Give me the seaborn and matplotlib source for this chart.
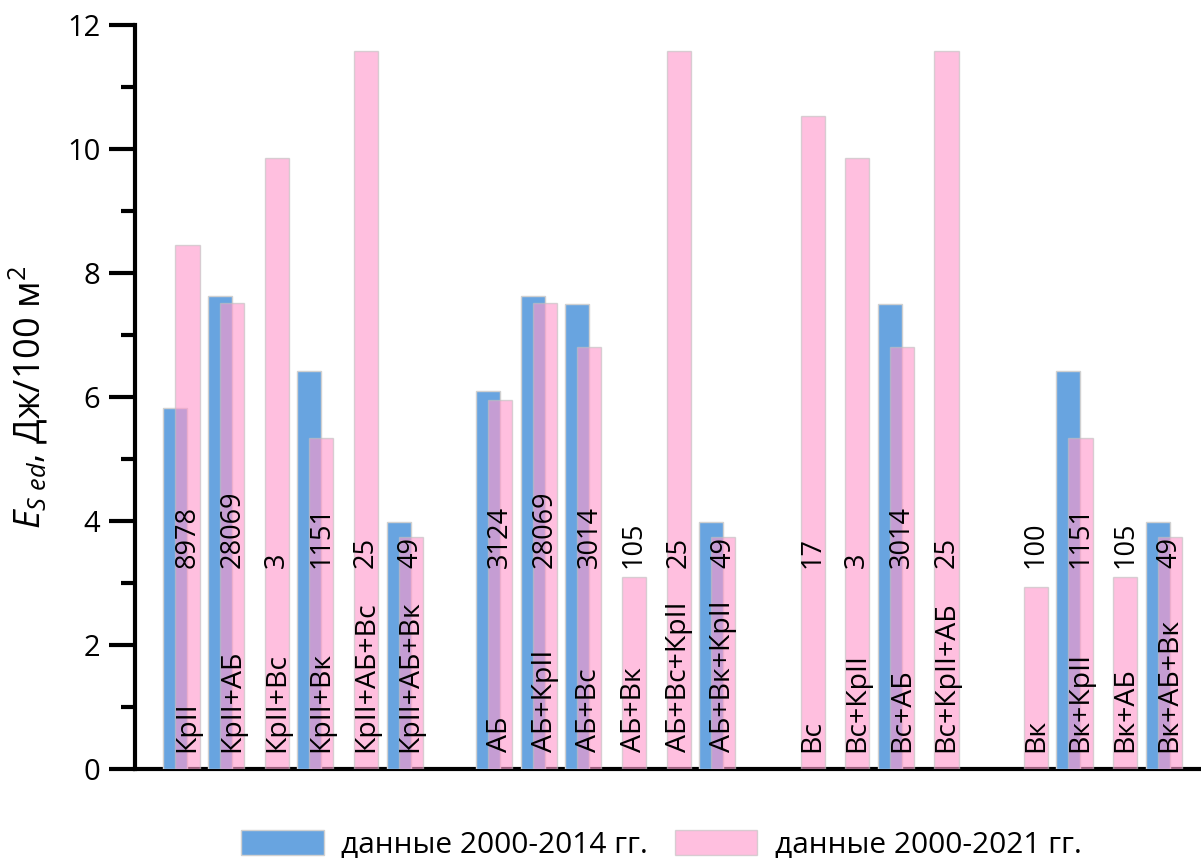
import numpy as np
import pandas as pd
import matplotlib
matplotlib.use("Agg")
import matplotlib.pyplot as plt
from matplotlib.patches import Patch
from matplotlib.ticker import MultipleLocator
import seaborn as sns

# Combinations of damage factors, grouped by the leading factor
combos = [
    "КрII", "КрII+АБ", "КрII+Вс", "КрII+Вк", "КрII+АБ+Вс", "КрII+АБ+Вк",
    "АБ", "АБ+КрII", "АБ+Вс", "АБ+Вк", "АБ+Вс+КрII", "АБ+Вк+КрII",
    "Вс", "Вс+КрII", "Вс+АБ", "Вс+КрII+АБ",
    "Вк", "Вк+КрII", "Вк+АБ", "Вк+АБ+Вк",
]
group_sizes = [6, 6, 4, 4]

# E_S ed, J/100 m2 for 2000-2014 (NaN where there was no data)
vals_2014 = [5.82, 7.63, np.nan, 6.42, np.nan, 3.98,
             6.10, 7.63, 7.50, np.nan, np.nan, 3.98,
             np.nan, np.nan, 7.50, np.nan,
             np.nan, 6.42, np.nan, 3.98]
# E_S ed, J/100 m2 for 2000-2021
vals_2021 = [8.45, 7.52, 9.85, 5.34, 11.58, 3.74,
             5.95, 7.52, 6.81, 3.10, 11.58, 3.74,
             10.53, 9.85, 6.81, 11.58,
             2.93, 5.34, 3.10, 3.74]
# number of events behind each estimate
counts = ["8978", "28069", "3", "1151", "25", "49",
          "3124", "28069", "3014", "105", "25", "49",
          "17", "3", "3014", "25",
          "100", "1151", "105", "49"]

# slot positions: one empty slot between groups
slots = []
start = 0
for n in group_sizes:
    slots.extend(range(start, start + n))
    start += n + 1
slots = np.array(slots, dtype=float)

shift = 0.27
df = pd.DataFrame({"combo": combos, "slot": slots,
                   "v14": vals_2014, "v21": vals_2021, "n": counts})
df14 = df.dropna(subset=["v14"]).assign(pos=lambda d: d["slot"] - shift)

sns.set_style("white", rc={"text.color": "black", "axes.labelcolor": "black",
                           "xtick.color": "black", "ytick.color": "black"})
plt.rcParams["font.family"] = ["Open Sans", "DejaVu Sans"]
plt.rcParams["mathtext.fontset"] = "custom"
plt.rcParams["mathtext.rm"] = "Open Sans"
plt.rcParams["mathtext.it"] = "Open Sans:italic"

blue = "#68A4E0"
pink = (1.0, 0.60, 0.80)

fig = plt.figure(figsize=(12.01, 8.64), dpi=100)
ax = fig.add_axes([0.1124, 0.110, 0.8876, 0.861])

sns.barplot(data=df14, x="pos", y="v14", native_scale=True, width=0.54,
            color=blue, saturation=1, edgecolor="#d0d0d0", linewidth=1.0,
            ax=ax, zorder=3)
sns.barplot(data=df, x="slot", y="v21", native_scale=True, width=0.54,
            color=pink, saturation=1, alpha=0.62, edgecolor="#c0c0c0",
            linewidth=1.0, ax=ax, zorder=4)

for _, r in df.iterrows():
    ax.text(r["slot"], 3.24, r["n"], rotation=90, ha="center", va="bottom",
            fontsize=19.5, color="black", zorder=5)
    ax.text(r["slot"], 0.27, r["combo"], rotation=90, ha="center", va="bottom",
            fontsize=20.5, color="black", zorder=5)

ax.set_xlim(-1.176, 22.70)
ax.set_ylim(0, 12)
ax.set_xticks([])
ax.set_xlabel("")
ax.yaxis.set_major_locator(MultipleLocator(2))
ax.yaxis.set_minor_locator(MultipleLocator(1))
ax.tick_params(axis="y", which="major", direction="out", length=19, width=3,
               labelsize=21, pad=6, left=True)
ax.tick_params(axis="y", which="minor", direction="out", length=10, width=3,
               left=True)
for side in ("top", "right"):
    ax.spines[side].set_visible(False)
for side in ("left", "bottom"):
    ax.spines[side].set_linewidth(3)
    ax.spines[side].set_color("black")
ax.set_ylabel(r"$E_{S\ ed}$, Дж/100 м$^2$", fontsize=26, labelpad=12)

handles = [Patch(facecolor=blue, edgecolor="#d0d0d0", linewidth=1.0),
           Patch(facecolor=pink, alpha=0.62, edgecolor="#c0c0c0", linewidth=1.0)]
fig.legend(handles, ["данные 2000-2014 гг.", "данные 2000-2021 гг."],
           loc="center", bbox_to_anchor=(0.551, 0.022), ncol=2, frameon=False,
           fontsize=21.5, handlelength=2.75, handleheight=0.9,
           handletextpad=0.6, columnspacing=0.9)

fig.savefig("out.png", dpi=100)
